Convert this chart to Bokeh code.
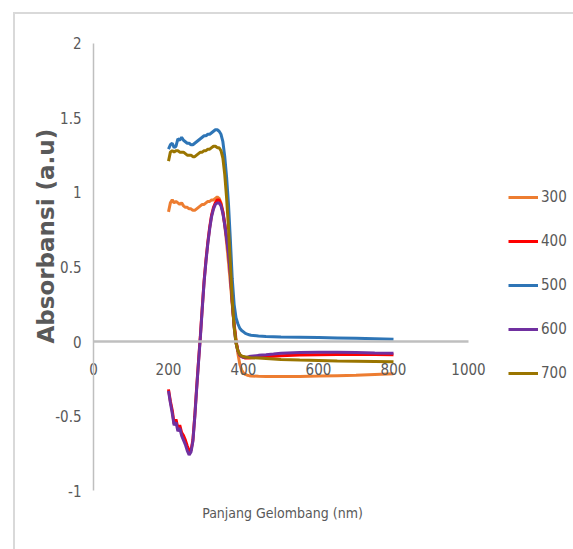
from bokeh.plotting import figure
from bokeh.models import (Range1d, FixedTicker, NumeralTickFormatter, Label, LinearAxis,
                          Legend, LegendItem)
from bokeh.embed import file_html
from bokeh.resources import INLINE

wavelength = [200, 205, 210, 215, 220, 225, 230, 235, 240, 245, 250, 255, 260, 265, 270,
              275, 280, 285, 290, 295, 300, 305, 310, 315, 320, 325, 330, 335, 340, 345,
              350, 355, 360, 365, 370, 375, 380, 385, 390, 395, 400, 405, 410, 415, 420,
              440, 460, 480, 500, 550, 600, 650, 700, 750, 800]

s300 = [0.87, 0.93, 0.95, 0.93, 0.94, 0.93, 0.92, 0.93, 0.91, 0.90, 0.90, 0.89, 0.89, 0.88, 0.88,
        0.89, 0.90, 0.91, 0.92, 0.92, 0.93, 0.94, 0.94, 0.95, 0.95, 0.96, 0.97, 0.96, 0.93, 0.87,
        0.78, 0.66, 0.53, 0.39, 0.25, 0.12, 0.02, -0.08, -0.15, -0.19, -0.21, -0.22, -0.225, -0.228, -0.23,
        -0.232, -0.233, -0.234, -0.234, -0.233, -0.231, -0.228, -0.225, -0.22, -0.215]

s400 = [-0.32, -0.40, -0.46, -0.55, -0.52, -0.58, -0.56, -0.61, -0.63, -0.66, -0.70, -0.73, -0.73, -0.66, -0.50,
        -0.31, -0.13, 0.04, 0.23, 0.41, 0.55, 0.67, 0.77, 0.85, 0.90, 0.93, 0.95, 0.95, 0.92, 0.87,
        0.79, 0.70, 0.60, 0.46, 0.27, 0.11, 0.00, -0.06, -0.09, -0.10, -0.105, -0.11, -0.11, -0.11, -0.108,
        -0.105, -0.10, -0.098, -0.095, -0.09, -0.088, -0.087, -0.087, -0.087, -0.088]

s500 = [1.29, 1.32, 1.33, 1.30, 1.31, 1.36, 1.35, 1.37, 1.35, 1.34, 1.33, 1.33, 1.32, 1.32, 1.33,
        1.34, 1.35, 1.36, 1.37, 1.38, 1.38, 1.39, 1.39, 1.40, 1.41, 1.42, 1.42, 1.41, 1.39, 1.34,
        1.24, 1.10, 0.92, 0.68, 0.42, 0.25, 0.16, 0.12, 0.09, 0.075, 0.065, 0.055, 0.05, 0.046, 0.043,
        0.038, 0.035, 0.033, 0.031, 0.029, 0.027, 0.025, 0.023, 0.02, 0.016]

s600 = [-0.33, -0.41, -0.48, -0.56, -0.54, -0.60, -0.58, -0.63, -0.66, -0.69, -0.73, -0.76, -0.74, -0.67, -0.51,
        -0.32, -0.14, 0.03, 0.22, 0.40, 0.54, 0.66, 0.76, 0.84, 0.89, 0.92, 0.93, 0.93, 0.91, 0.86,
        0.78, 0.69, 0.59, 0.45, 0.26, 0.10, -0.01, -0.06, -0.09, -0.10, -0.105, -0.105, -0.105, -0.10, -0.098,
        -0.092, -0.088, -0.083, -0.078, -0.073, -0.071, -0.071, -0.073, -0.076, -0.078]

s700 = [1.21, 1.27, 1.28, 1.27, 1.28, 1.28, 1.27, 1.27, 1.27, 1.26, 1.25, 1.25, 1.25, 1.24, 1.24,
        1.25, 1.26, 1.27, 1.27, 1.28, 1.28, 1.29, 1.29, 1.30, 1.31, 1.31, 1.30, 1.30, 1.28, 1.23,
        1.12, 0.96, 0.76, 0.52, 0.28, 0.10, -0.01, -0.06, -0.085, -0.095, -0.10, -0.103, -0.105, -0.107, -0.108,
        -0.11, -0.113, -0.116, -0.119, -0.123, -0.126, -0.129, -0.131, -0.133, -0.135]

series_names = ["300", "400", "500", "600", "700"]
series_values = [s300, s400, s500, s600, s700]
series_colors = ["#ED7D31", "#FF0000", "#2E75B6", "#7030A0", "#9A7500"]

x_ticks = [0, 200, 400, 600, 800, 1000]
y_ticks = [-1, -0.5, 0, 0.5, 1, 1.5, 2]

NARROW = "DejaVu Sans Condensed"
TXT = "#595959"
AXIS = "#bfbfbf"

frame_bg = ("linear-gradient(#d9d9d9, #d9d9d9) 13px 12px / 560px 2px no-repeat, "
            "linear-gradient(#d9d9d9, #d9d9d9) 13px 12px / 2px 537px no-repeat, white")

p = figure(width=573, height=549, output_backend="svg", toolbar_location=None,
           x_range=Range1d(-248, 1280), y_range=Range1d(-1.3933, 2.2867),
           x_axis_type=None, y_axis_type=None,
           min_border_left=0, min_border_top=0, min_border_bottom=0, min_border_right=0,
           styles={"background": frame_bg})
p.outline_line_color = None
p.grid.visible = False
p.background_fill_alpha = 0
p.border_fill_alpha = 0

# y axis, drawn at x = 0
yax = LinearAxis(fixed_location=0, bounds=(y_ticks[0], y_ticks[-1]),
                 ticker=FixedTicker(ticks=y_ticks),
                 formatter=NumeralTickFormatter(format="0.[0]"))
yax.axis_line_color = AXIS
yax.axis_line_width = 1.5
yax.major_tick_line_color = None
yax.minor_tick_line_color = None
yax.major_tick_out = 0
yax.major_tick_in = 0
yax.major_label_standoff = 12
yax.major_label_text_font = NARROW
yax.major_label_text_font_size = "15px"
yax.major_label_text_color = TXT
p.add_layout(yax, "left")

# x axis, drawn at y = 0
xax = LinearAxis(fixed_location=0, bounds=(x_ticks[0], x_ticks[-1]),
                 ticker=FixedTicker(ticks=x_ticks),
                 formatter=NumeralTickFormatter(format="0"))
xax.axis_line_color = AXIS
xax.axis_line_width = 2.5
xax.major_tick_line_color = None
xax.minor_tick_line_color = None
xax.major_tick_out = 0
xax.major_tick_in = 0
xax.major_label_standoff = 21
xax.major_label_text_font = NARROW
xax.major_label_text_font_size = "15px"
xax.major_label_text_color = TXT
p.add_layout(xax, "below")

# axis titles
p.add_layout(Label(x=-128, y=0.707, text="Absorbansi (a.u)", angle=90, angle_units="deg",
                   text_align="center", text_baseline="middle",
                   text_font="DejaVu Sans", text_font_style="bold",
                   text_font_size="23px", text_color=TXT))
p.add_layout(Label(x=504, y=-1.147, text="Panjang Gelombang (nm)",
                   text_align="center", text_baseline="middle",
                   text_font=NARROW, text_font_size="14px", text_color=TXT))

items = []
for name, vals, col in zip(series_names, series_values, series_colors):
    r = p.line(wavelength, vals, line_color=col, line_width=3)
    items.append(LegendItem(label=name, renderers=[r]))

legend = Legend(items=items, location=(508, 166), orientation="vertical",
                glyph_width=30, glyph_height=20, label_height=20, spacing=24,
                label_standoff=3, padding=0, margin=0,
                border_line_color=None, background_fill_alpha=0,
                label_text_font=NARROW, label_text_font_size="15px", label_text_color=TXT)
p.add_layout(legend, "center")

open("out.html", "w").write(file_html(p, INLINE))
